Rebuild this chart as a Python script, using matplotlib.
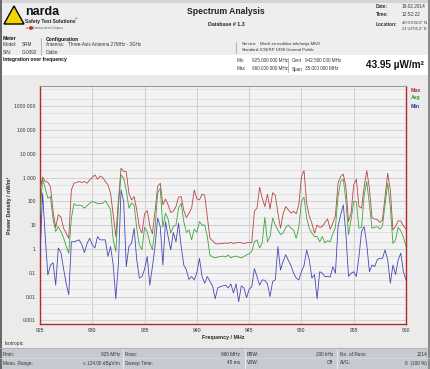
import numpy as np
import matplotlib
matplotlib.use('Agg')
import matplotlib.pyplot as plt
from matplotlib.patches import Rectangle, Polygon, Circle
from matplotlib.lines import Line2D

plt.rcParams['font.family'] = ['Liberation Sans', 'DejaVu Sans']

# spectrum sampled every 0.25 MHz, power density in nW/m^2
freq = np.linspace(925, 960, 141)

max_vals = [300, 1050, 680, 630, 420, 38, 8, 27, 22, 7.4,
            4.6, 2.8, 300, 575, 620, 680, 620, 680, 575, 790,
            1000, 1290, 850, 1150, 1000, 680, 490, 220, 27, 3.3,
            115, 2450, 1780, 1780, 220, 115, 158, 44, 8, 4.6,
            30, 41, 9.3, 4.3, 38, 417, 575, 71, 125, 71,
            34, 38, 60, 150, 158, 41, 21, 32, 52, 300,
            125, 115, 200, 180, 23, 2.8, 2.2, 1.7, 1.6, 1.7,
            1.7, 1.8, 1.7, 1.9, 1.7, 1.8, 1.9, 1.8, 1.7, 1.8,
            1.9, 1.8, 38, 52, 390, 135, 60, 200, 47, 230,
            180, 32, 7.4, 30, 60, 44, 32, 38, 30, 71,
            1100, 1950, 83, 24, 12, 4.6, 10, 8, 8.7, 13,
            18, 6.8, 12, 25, 575, 1100, 1400, 417, 14, 32,
            490, 850, 60, 52, 417, 1950, 355, 21, 18, 17,
            13, 17, 158, 1500, 300, 6.3, 8.7, 15, 15, 9.3,
            6.8]

avg_vals = [30, 850, 355, 135, 158, 17, 5.4, 8.7, 5.4, 3,
            1.3, 0.66, 20, 80, 65, 71, 65, 52, 65, 83,
            98, 90, 80, 80, 83, 105, 71, 44, 2.4, 0.78,
            60, 1290, 930, 300, 52, 83, 71, 7.4, 1.4, 0.95,
            8, 5.4, 1.8, 0.91, 7.4, 219, 355, 8, 32, 18,
            4.6, 8.7, 10, 52, 83, 14, 4.9, 6.3, 2.4, 6.8,
            4.9, 14, 10, 10, 3.3, 0.55, 0.46, 0.42, 0.46, 0.48,
            0.5, 0.46, 0.56, 0.42, 0.48, 0.5, 0.46, 0.42, 0.48, 0.56,
            0.63, 0.78, 2, 2.4, 1.1, 1.8, 21, 2, 3.3, 20,
            10, 6.3, 4, 4.6, 8, 10, 7.4, 6.3, 2.8, 8,
            98, 150, 20, 7.4, 4.6, 3.3, 3.3, 2, 3.3, 1.8,
            2.2, 2, 4.3, 8, 158, 680, 850, 115, 3.9, 17,
            98, 98, 7.4, 8, 180, 680, 71, 7.4, 8, 8.7,
            6.8, 9.3, 71, 575, 60, 1.7, 2.4, 8, 5.8, 3.1,
            1.26]

min_vals = [0.5, 220, 3.3, 0.08, 0.21, 0.26, 0.03, 1.1, 0.7, 0.15,
            0.036, 0.012, 2.0, 2.0, 2.2, 2.4, 1.5, 0.7, 1.7, 2.8,
            1.5, 1.1, 3.3, 2.4, 2.4, 2.4, 0.48, 1.26, 0.21, 0.008,
            0.25, 300, 98, 0.18, 1.26, 1.7, 7.4, 0.35, 0.06, 0.069,
            0.14, 0.48, 0.03, 0.18, 1.26, 20, 8.7, 0.21, 14, 3.3,
            0.91, 4.9, 2, 12, 1.26, 0.21, 0.13, 0.052, 0.069, 0.05,
            0.1, 0.4, 0.069, 0.036, 0.069, 0.043, 0.028, 0.008, 0.023, 0.026,
            0.028, 0.03, 0.023, 0.034, 0.014, 0.034, 0.006, 0.028, 0.023, 0.009,
            0.02, 0.026, 0.15, 0.069, 0.03, 0.05, 0.048, 0.034, 0.01, 0.043,
            0.05, 1.26, 0.13, 0.3, 0.57, 0.33, 0.2, 0.095, 0.06, 0.05,
            0.11, 0.2, 0.91, 0.35, 0.06, 0.083, 0.008, 0.11, 0.095, 0.069,
            0.069, 0.066, 0.18, 0.095, 8.7, 27, 71, 4.6, 0.07, 0.095,
            0.11, 0.069, 0.48, 5.4, 8.7, 1.5, 0.11, 0.21, 0.18, 0.35,
            0.4, 0.4, 0.91, 0.35, 0.036, 0.21, 0.083, 0.35, 0.66, 0.11,
            0.05]

ytick_vals = [1e6, 1e5, 1e4, 1e3, 100, 10, 1, 0.1, 0.01, 0.001]
ytick_labels = ['1000 000', '100 000', '10 000', '1 000', '100', '10', '1', '0.1', '0.01', '0.001']
xtick_vals = [925, 930, 935, 940, 945, 950, 955, 960]

W, H = 431, 369
fig = plt.figure(figsize=(W / 100, H / 100), dpi=100)
fig.patch.set_facecolor('#ececec')


def fx(x):
    return x / W


def fy(y):
    return 1 - y / H


def txt(x, y, s, size=3.6, weight='normal', ha='left', color='#333333', **kw):
    fig.text(fx(x), fy(y), s, fontsize=size, fontweight=weight, ha=ha, va='center', color=color, **kw)


def rect(x0, y0, x1, y1, fc):
    fig.patches.append(Rectangle((fx(x0), fy(y1)), fx(x1) - fx(x0), fy(y0) - fy(y1),
                                 transform=fig.transFigure, facecolor=fc, edgecolor='none',
                                 linewidth=0, zorder=-5))


def vline(x, y0, y1, color='#aaaaaa', lw=0.6):
    fig.lines.append(Line2D([fx(x), fx(x)], [fy(y0), fy(y1)], transform=fig.transFigure,
                            color=color, linewidth=lw))


# page areas
rect(0, 0, W, 3, '#d4d4d4')
rect(0, 3, W, 55, '#eeeeee')
rect(0, 55, W, 75, 'white')
rect(0, 75, W, 348, '#ebebeb')
rect(0, 348, W, H, '#c6cbd1')
rect(0, 0, 2, H, '#6a6a6a')
rect(W - 3, 0, W, H, '#8a8a8a')

# logo
fig.patches.append(Polygon([(fx(4), fy(24)), (fx(14), fy(6)), (fx(24), fy(24))], closed=True,
                           transform=fig.transFigure, facecolor='#f2d400', edgecolor='black',
                           linewidth=1.0))
txt(25, 12, 'narda', size=9, weight='bold', color='#111111')
txt(25, 21, 'Safety Test Solutions', size=3.6, weight='bold', color='#222222')
txt(75, 19, '®', size=2.2, color='#222222')
fig.patches.append(Circle((fx(31), fy(28)), 0.005, transform=fig.transFigure,
                          facecolor='#cc2222', edgecolor='none'))
txt(26, 28, 'an', size=1.8, color='#555555')
txt(33, 28, 'Communications Company', size=1.8, color='#555555')

# title block
txt(226, 12, 'Spectrum Analysis', size=6.2, weight='bold', ha='center', color='#222222')
txt(226, 25, 'Database # 1.3', size=3.8, weight='bold', ha='center', color='#222222')

txt(376, 7, 'Date:', size=3.4, weight='bold')
txt(402, 7, '19.02.2014', size=3.4)
txt(376, 15, 'Time:', size=3.4, weight='bold')
txt(402, 15, '12:52:22', size=3.4)
txt(376, 24, 'Location:', size=3.4, weight='bold')
txt(402, 23.5, '40°59\'32.0" N', size=3.0)
txt(402, 28.5, '21°22\'55.2" E', size=3.0)

txt(3, 39, 'Meter', size=3.6, weight='bold', color='#111111')
txt(3, 45, 'Model:', size=3.3)
txt(22, 45, 'SRM', size=3.3)
txt(3, 52, 'S/N:', size=3.3)
txt(22, 52, 'G-0092', size=3.3)
vline(41, 38, 55)
txt(46, 39, 'Configuration', size=3.6, weight='bold', color='#111111')
txt(46, 45, 'Antenna:', size=3.3)
txt(68, 45, 'Three-Axis Antenna 27MHz - 3GHz', size=3.3)
txt(46, 52, 'Cable:', size=3.3)

vline(236, 42, 53)
txt(242, 44, 'Service:', size=3.1)
txt(260, 44, 'Mreži za mobilna telefonija MKD', size=3.1)
txt(242, 50, 'Standard:', size=3.1)
txt(260, 50, 'ICNIRP 1998 General Public', size=3.1)

txt(3, 60, 'Integration over frequency', size=3.6, weight='bold', color='#111111')
txt(237, 61, 'Min', size=3.3)
txt(252, 61, '925.000 000 MHz', size=3.3)
txt(237, 69, 'Max', size=3.3)
txt(252, 69, '960.000 000 MHz', size=3.3)
vline(288, 58, 72)
txt(292, 61, 'Cent', size=3.3)
txt(305, 61, '942.500 000 MHz', size=3.3)
txt(292, 69, 'Span', size=3.3)
txt(305, 69, '35.000 000 MHz', size=3.3)
txt(395, 65, '43.95 µW/m²', size=7.2, weight='bold', ha='center', color='#111111')

# chart
ax = fig.add_axes([fx(40), fy(324), fx(406) - fx(40), fy(86) - fy(324)])
ax.set_facecolor('#f3f3f3')
ax.set_yscale('log')
ax.plot(freq, max_vals, color='#b84646', linewidth=0.6, zorder=3)
ax.plot(freq, avg_vals, color='#3fa23f', linewidth=0.6, zorder=4)
ax.plot(freq, min_vals, color='#4848b6', linewidth=0.6, zorder=5)
ax.set_xlim(925, 960)
ax.set_ylim(7e-4, 7e6)

ax.set_yticks(ytick_vals)
ax.set_yticklabels(ytick_labels)
ax.set_yticks([v * s for v in ytick_vals for s in (2, 5)], minor=True)
ax.yaxis.set_minor_formatter(plt.NullFormatter())
ax.set_xticks(xtick_vals)
ax.set_xticklabels([str(v) for v in xtick_vals])
ax.tick_params(axis='both', which='both', length=0, labelsize=3.6, labelcolor='#333333')
ax.tick_params(axis='y', pad=3)
ax.tick_params(axis='x', pad=3)
ax.grid(True, which='major', color='#d2d2d2', linewidth=0.8, zorder=1)
ax.grid(True, which='minor', axis='y', color='#dedede', linewidth=0.6, zorder=1)
ax.set_axisbelow(True)
for side in ('left', 'right', 'bottom'):
    ax.spines[side].set_color('#b22a2a')
    ax.spines[side].set_linewidth(1.0)
ax.spines['top'].set_color('#9a9a9a')
ax.spines['top'].set_linewidth(0.8)

ax.set_xlabel('Frequency / MHz', fontsize=3.8, fontweight='bold', color='#222222', labelpad=1.5)
ax.set_ylabel('Power Density / nW/m²', fontsize=3.8, fontweight='bold', color='#222222', labelpad=1.5)

txt(411, 90, 'Max', size=3.8, weight='bold', color='#b02a2a')
txt(411, 98, 'Avg', size=3.8, weight='bold', color='#2f9a2f')
txt(411, 106, 'Min', size=3.8, weight='bold', color='#2e2ea8')

txt(5, 344, 'Isotropic', size=3.6)

# status bar
fig.lines.append(Line2D([0, 1], [fy(348), fy(348)], transform=fig.transFigure, color='#a9aeb4', linewidth=0.6))
fig.lines.append(Line2D([0, 1], [fy(358), fy(358)], transform=fig.transFigure, color='#d8dbdf', linewidth=0.5))
for xs in (123, 245, 337):
    vline(xs, 349, 368, color='#eef0f2', lw=0.6)
bar_left = [(3, 'Fmin:', 'Meas. Range:'), (125, 'Fmax:', 'Sweep Time:'),
            (247, 'RBW:', 'VBW:'), (340, 'No. of Runs:', 'AVG:')]
bar_right = [(120, '925 MHz', '≈ 124.00 dBµV/m'), (240, '960 MHz', '45 ms'),
             (333, '200 kHz', 'Off'), (427, '1214', '8  (100 %)')]
for x, a, b in bar_left:
    txt(x, 354, a, size=3.4)
    txt(x, 363, b, size=3.4)
for x, a, b in bar_right:
    txt(x, 354, a, size=3.4, ha='right')
    txt(x, 363, b, size=3.4, ha='right')

fig.savefig('out.png', dpi=100, facecolor=fig.get_facecolor())
